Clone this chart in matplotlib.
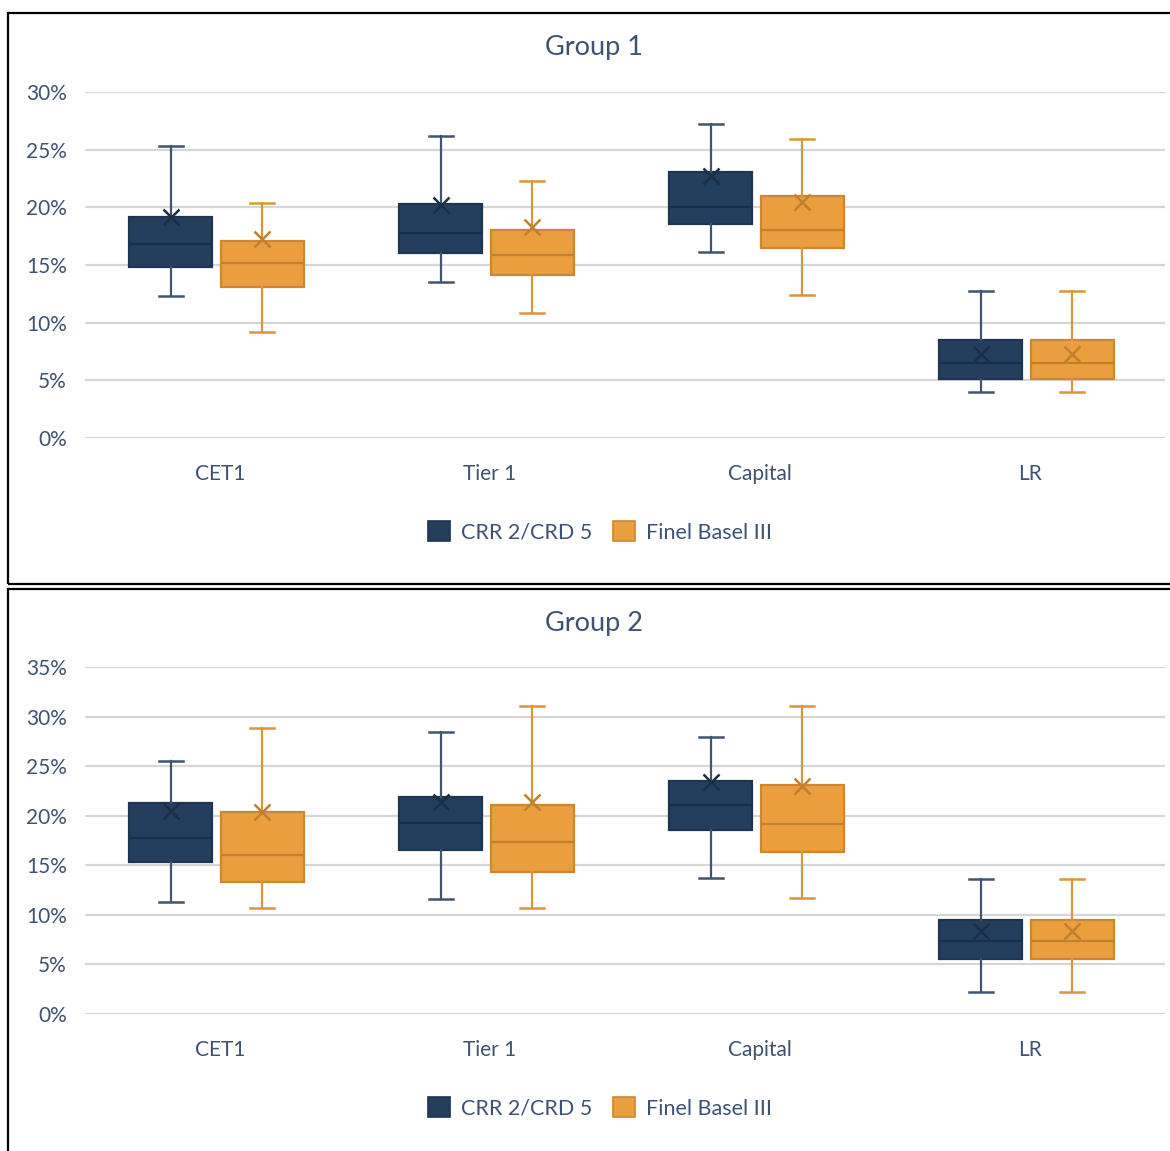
import matplotlib
matplotlib.use('Agg')
import matplotlib.pyplot as plt
from matplotlib.patches import Rectangle, Patch
from matplotlib.ticker import PercentFormatter, MultipleLocator

W, H, DPI = 1170, 1151, 100

categories = ['CET1', 'Tier 1', 'Capital', 'LR']
series = ['CRR 2/CRD 5', 'Finel Basel III']
titles = ['Group 1', 'Group 2']

# ---- Group 1 (values in %) ----
g1_crr_whislo = [12.3, 13.5, 16.15, 4.0]
g1_crr_q1 = [14.8, 16.0, 18.55, 5.1]
g1_crr_med = [16.8, 17.8, 20.05, 6.5]
g1_crr_q3 = [19.2, 20.3, 23.1, 8.5]
g1_crr_whishi = [25.3, 26.2, 27.2, 12.75]
g1_crr_mean = [19.2, 20.2, 22.7, 7.3]

g1_fb_whislo = [9.2, 10.8, 12.4, 4.0]
g1_fb_q1 = [13.1, 14.1, 16.45, 5.1]
g1_fb_med = [15.2, 15.9, 18.0, 6.5]
g1_fb_q3 = [17.1, 18.0, 21.0, 8.5]
g1_fb_whishi = [20.4, 22.3, 25.9, 12.75]
g1_fb_mean = [17.25, 18.3, 20.5, 7.3]

# ---- Group 2 (values in %) ----
g2_crr_whislo = [11.3, 11.6, 13.75, 2.25]
g2_crr_q1 = [15.3, 16.5, 18.6, 5.55]
g2_crr_med = [17.8, 19.3, 21.1, 7.4]
g2_crr_q3 = [21.25, 21.9, 23.5, 9.5]
g2_crr_whishi = [25.5, 28.4, 27.9, 13.6]
g2_crr_mean = [20.5, 21.4, 23.4, 8.4]

g2_fb_whislo = [10.7, 10.7, 11.7, 2.25]
g2_fb_q1 = [13.3, 14.3, 16.3, 5.55]
g2_fb_med = [16.0, 17.3, 19.2, 7.4]
g2_fb_q3 = [20.4, 21.1, 23.1, 9.5]
g2_fb_whishi = [28.8, 31.1, 31.1, 13.6]
g2_fb_mean = [20.4, 21.4, 23.0, 8.4]

y_max = [30, 35]

TEXT = '#3F5270'
GRID = '#D6D6D6'
NAVY_FILL, NAVY_EDGE, NAVY_LINE, NAVY_MED = '#243F5E', '#1E3550', '#41546D', '#1A2F47'
ORNG_FILL, ORNG_EDGE, ORNG_LINE, ORNG_MED = '#EB9E3E', '#CB8731', '#D9963C', '#C0802E'

plt.rcParams['font.family'] = ['Lato', 'DejaVu Sans']


def make_stats(whislo, q1, med, q3, whishi, mean):
    return [dict(whislo=a, q1=b, med=c, q3=d, whishi=e, mean=f, fliers=[])
            for a, b, c, d, e, f in zip(whislo, q1, med, q3, whishi, mean)]


groups = [
    (make_stats(g1_crr_whislo, g1_crr_q1, g1_crr_med, g1_crr_q3, g1_crr_whishi, g1_crr_mean),
     make_stats(g1_fb_whislo, g1_fb_q1, g1_fb_med, g1_fb_q3, g1_fb_whishi, g1_fb_mean)),
    (make_stats(g2_crr_whislo, g2_crr_q1, g2_crr_med, g2_crr_q3, g2_crr_whishi, g2_crr_mean),
     make_stats(g2_fb_whislo, g2_fb_q1, g2_fb_med, g2_fb_q3, g2_fb_whishi, g2_fb_mean)),
]

fig = plt.figure(figsize=(W / DPI, H / DPI), dpi=DPI)
fig.patch.set_facecolor('white')


def px_x(x):
    return x / W


def px_y(y):
    return 1 - y / H


# panel frames (top, bottom) in pixel coordinates
frames = [(8, 13, 1200, 584), (8, 589, 1200, 1200)]
for x0, y0, x1, y1 in frames:
    fig.add_artist(Rectangle((px_x(x0), px_y(y1)), px_x(x1 - x0), (y1 - y0) / H,
                             transform=fig.transFigure, fill=False,
                             edgecolor='black', linewidth=1.6, clip_on=False))

# axes placement: (top_px, bottom_px)
axes_px = [(92, 438), (667, 1014)]
title_y = [48, 624]
legend_y = [532, 1108]

n = len(categories)
pos = list(range(n))
off_crr, off_fb = -0.183, 0.157
bw = 0.31
capw = 24 / 270

for gi, (stats_crr, stats_fb) in enumerate(groups):
    top, bot = axes_px[gi]
    ax = fig.add_axes([px_x(85), px_y(bot), px_x(1080), (bot - top) / H])
    ax.set_xlim(-0.5, n - 0.5)
    ax.set_ylim(0, y_max[gi])
    ax.yaxis.set_major_locator(MultipleLocator(5))
    ax.yaxis.set_major_formatter(PercentFormatter(xmax=100, decimals=0))
    ax.grid(axis='y', color=GRID, linewidth=1.6, zorder=0)
    ax.set_axisbelow(True)
    for s in ax.spines.values():
        s.set_visible(False)
    ax.set_xticks(pos)
    ax.set_xticklabels(categories)
    ax.tick_params(axis='both', length=0, colors=TEXT, labelsize=15)
    ax.tick_params(axis='x', pad=19)
    ax.tick_params(axis='y', pad=13)

    for stats, off, fill, edge, line, med in [
        (stats_crr, off_crr, NAVY_FILL, NAVY_EDGE, NAVY_LINE, NAVY_MED),
        (stats_fb, off_fb, ORNG_FILL, ORNG_EDGE, ORNG_LINE, ORNG_MED),
    ]:
        ax.bxp(stats, positions=[p + off for p in pos], widths=bw,
               capwidths=capw, patch_artist=True, showmeans=True,
               showfliers=False, manage_ticks=False,
               boxprops=dict(facecolor=fill, edgecolor=edge, linewidth=1.6),
               medianprops=dict(color=med, linewidth=1.6),
               whiskerprops=dict(color=line, linewidth=1.6),
               capprops=dict(color=line, linewidth=1.8),
               meanprops=dict(marker='x', markeredgecolor=med,
                              markersize=11, markeredgewidth=1.8),
               zorder=3)

    fig.text(px_x(594), px_y(title_y[gi]), titles[gi], ha='center', va='center',
             fontsize=19.5, color=TEXT)

    handles = [Patch(facecolor=NAVY_FILL, edgecolor=NAVY_EDGE, linewidth=1.2),
               Patch(facecolor=ORNG_FILL, edgecolor=ORNG_EDGE, linewidth=1.2)]
    fig.legend(handles, series, loc='center',
               bbox_to_anchor=(px_x(600), px_y(legend_y[gi])),
               ncol=2, frameon=False, fontsize=15.5, labelcolor=TEXT,
               handlelength=1.0, handleheight=1.0, handletextpad=0.5,
               columnspacing=1.0)

fig.savefig('out.png', dpi=DPI, facecolor='white')
